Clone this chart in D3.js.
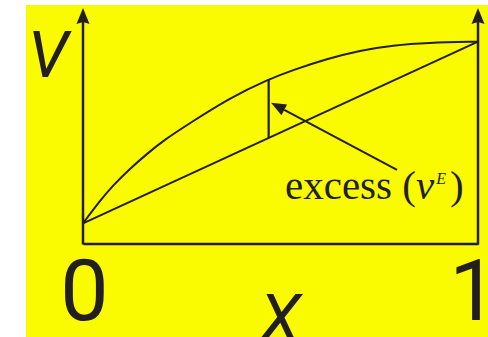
<!DOCTYPE html>
<html>
<head>
<meta charset="utf-8">
<script src="https://cdn.jsdelivr.net/npm/d3@7"></script>
<style>
  html, body { margin: 0; padding: 0; background: #ffffff; }
  svg { display: block; }
</style>
</head>
<body>
<svg id="chart" width="488" height="337"></svg>
<script>
// Mole fraction x of the second component and the molar volume of the real mixture
const molFrac = [0, 0.043, 0.076, 0.119, 0.162, 0.203, 0.271, 0.372, 0.471, 0.532, 0.618, 0.701, 0.785, 0.871, 1];
const vMix    = [0.10, 0.212, 0.288, 0.371, 0.444, 0.510, 0.597, 0.722, 0.815, 0.860, 0.915, 0.957, 0.982, 0.995, 1.0];
// Ideal mixing: straight line between the pure-component volumes
const idealFrac = [0, 1];
const vIdeal    = [0.10, 1.0];
// Where the excess volume is marked
const excessFrac = [0.47];
const excessTop  = [0.815];
// Pointer from the label to the excess bar (tail, head)
const pointerFrac = [0.795, 0.476];
const pointerV    = [0.365, 0.697];
// Axis tick values and labels
const xTicks = [0, 1];
const xTickLabels = ["0", "1"];

const ink = "#231f20";
const sans = "Roboto, 'Liberation Sans', Arial, sans-serif";
const svg = d3.select("#chart");

svg.append("rect")
  .attr("x", 26).attr("y", 5).attr("width", 462).attr("height", 332)
  .attr("fill", "#fafa00");

const x = d3.scaleLinear().domain([0, 1]).range([83, 478]);
const y = d3.scaleLinear().domain([0, 1]).range([243.5, 41.7]);
const yTop = 8; // arrow tips of the vertical axes

// Bottom axis with the 0 and 1 end labels
const xAxis = d3.axisBottom(x)
  .tickValues(xTicks)
  .tickFormat((d, i) => xTickLabels[i])
  .tickSize(0)
  .tickSizeOuter(0);
const gx = svg.append("g").attr("transform", `translate(0,${y(0)})`).call(xAxis);
gx.select(".domain").attr("stroke", ink).attr("stroke-width", 2.5);
gx.selectAll(".tick text")
  .attr("dy", null)
  .attr("dx", (d, i) => i === xTicks.length - 1 ? -5 : 1)
  .attr("y", 320 - y(0))
  .attr("fill", ink)
  .attr("font-family", sans)
  .attr("font-size", 86);

// Vertical axes at x = 0 and x = 1, each ending in an arrowhead
[0, 1].forEach(v => {
  const px = x(v);
  svg.append("line")
    .attr("x1", px).attr("x2", px)
    .attr("y1", y(0) + 1).attr("y2", yTop + 10)
    .attr("stroke", ink).attr("stroke-width", 2.5);
  svg.append("path")
    .attr("d", `M${px},${yTop} L${px + 6.5},${yTop + 16} L${px},${yTop + 14} L${px - 6.5},${yTop + 16} Z`)
    .attr("fill", ink);
});

const line = d3.line().x(d => x(d[0])).y(d => y(d[1]));

// Ideal (linear) mixing line
svg.append("path")
  .datum(d3.zip(idealFrac, vIdeal))
  .attr("d", line)
  .attr("fill", "none").attr("stroke", ink).attr("stroke-width", 2);

// Real mixture curve
svg.append("path")
  .datum(d3.zip(molFrac, vMix))
  .attr("d", d3.line().x(d => x(d[0])).y(d => y(d[1])).curve(d3.curveBasis))
  .attr("fill", "none").attr("stroke", ink).attr("stroke-width", 2);

// Excess bar between the two
const idealAt = d3.scaleLinear().domain(idealFrac).range(vIdeal);
excessFrac.forEach((f, i) => {
  svg.append("line")
    .attr("x1", x(f)).attr("x2", x(f))
    .attr("y1", y(excessTop[i])).attr("y2", y(idealAt(f)))
    .attr("stroke", ink).attr("stroke-width", 2.2);
});

// Pointer arrow
const tx = x(pointerFrac[0]), ty = y(pointerV[0]);
const hx = x(pointerFrac[1]), hy = y(pointerV[1]);
const ang = Math.atan2(ty - hy, tx - hx);
const headLen = 15, headHalf = 6;
const bx = hx + headLen * Math.cos(ang), by = hy + headLen * Math.sin(ang);
svg.append("line")
  .attr("x1", tx).attr("y1", ty).attr("x2", bx).attr("y2", by)
  .attr("stroke", ink).attr("stroke-width", 2);
svg.append("path")
  .attr("d", `M${hx},${hy} L${bx - headHalf * Math.sin(ang)},${by + headHalf * Math.cos(ang)} L${bx + headHalf * Math.sin(ang)},${by - headHalf * Math.cos(ang)} Z`)
  .attr("fill", ink);

// Axis titles
svg.append("text")
  .attr("x", 48).attr("y", 77)
  .attr("text-anchor", "middle")
  .attr("font-family", sans)
  .attr("font-style", "italic")
  .attr("font-size", 65)
  .attr("fill", ink)
  .text("V");

svg.append("text")
  .attr("x", 280).attr("y", 341)
  .attr("text-anchor", "middle")
  .attr("font-family", sans)
  .attr("font-style", "italic")
  .attr("font-size", 67)
  .attr("fill", ink)
  .text("X");

// Label for the excess volume
const lbl = svg.append("text")
  .attr("x", 285).attr("y", 199)
  .attr("font-family", "Liberation Serif, Times New Roman, serif")
  .attr("font-size", 41)
  .attr("fill", ink);
lbl.append("tspan").text("excess (");
lbl.append("tspan").attr("font-style", "italic").text("v");
lbl.append("tspan").attr("font-style", "italic").attr("font-size", 16).attr("dx", 2).attr("dy", -15).text("E");
lbl.append("tspan").attr("dy", 15).attr("dx", 4).text(")");
</script>
</body>
</html>
